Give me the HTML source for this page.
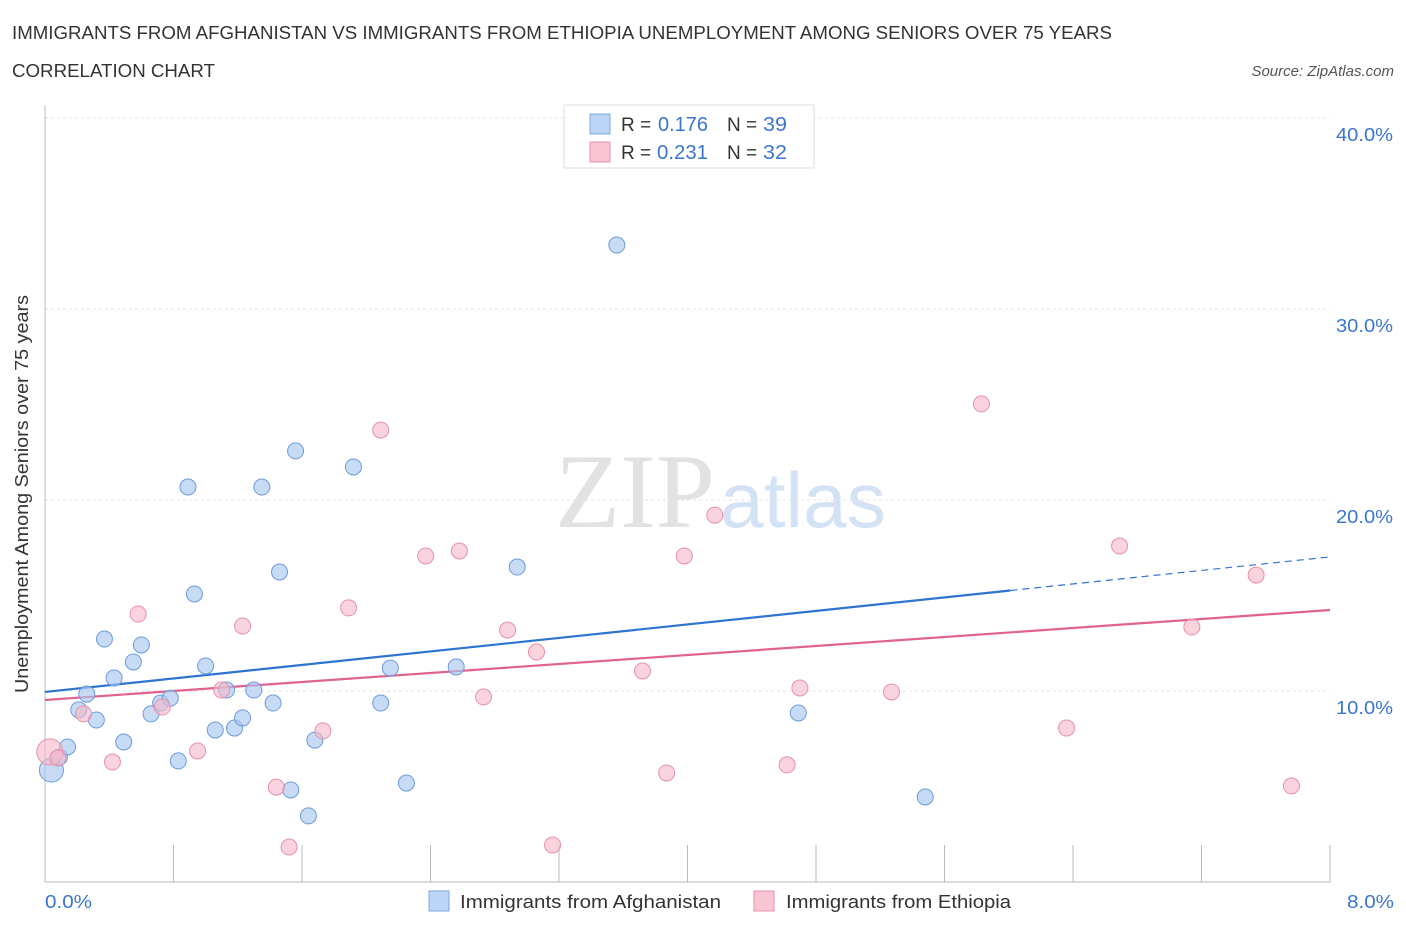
<!DOCTYPE html>
<html><head><meta charset="utf-8"><style>
body{margin:0;background:#fff;font-family:"Liberation Sans",sans-serif;}
svg text{font-family:"Liberation Sans",sans-serif;}
</style></head><body>
<svg id="c" width="1406" height="930" xmlns="http://www.w3.org/2000/svg">
<text x="12" y="39" font-size="18" fill="#333" textLength="1100" lengthAdjust="spacingAndGlyphs">IMMIGRANTS FROM AFGHANISTAN VS IMMIGRANTS FROM ETHIOPIA UNEMPLOYMENT AMONG SENIORS OVER 75 YEARS</text>
<text x="12" y="77" font-size="18" fill="#333" textLength="203" lengthAdjust="spacingAndGlyphs">CORRELATION CHART</text>
<text x="1394" y="76" font-size="15" fill="#555" font-style="italic" text-anchor="end">Source: ZipAtlas.com</text>
<text x="555" y="527" font-size="106" fill="#e2e2e2" textLength="160" lengthAdjust="spacingAndGlyphs" font-family="Liberation Serif" style="font-family:'Liberation Serif',serif">ZIP</text>
<text x="720" y="527" font-size="78" fill="#d3e2f4" textLength="166" lengthAdjust="spacingAndGlyphs">atlas</text>
<g id="grid"></g><g id="axes"></g><g id="lines"></g><g id="pts"></g>
<text x="28" y="494" font-size="18" fill="#333" text-anchor="middle" textLength="398" lengthAdjust="spacingAndGlyphs" transform="rotate(-90 28 494)">Unemployment Among Seniors over 75 years</text>
<text x="45" y="908" font-size="18" fill="#3a76d0" textLength="47" lengthAdjust="spacingAndGlyphs">0.0%</text>
<text x="1347" y="908" font-size="18" fill="#3a76d0" textLength="47" lengthAdjust="spacingAndGlyphs">8.0%</text>
<g>
<rect x="564" y="105" width="250" height="63" fill="#fff" stroke="#ddd"/>
<rect x="590" y="114" width="20" height="20" fill="#bcd4f5" stroke="#7ba7e0"/>
<rect x="590" y="142" width="20" height="20" fill="#f9c4d3" stroke="#e890aa"/>
<text x="621" y="131" font-size="19" fill="#333">R =</text>
<text x="658" y="131" font-size="20" fill="#3a76d0" textLength="50" lengthAdjust="spacingAndGlyphs">0.176</text>
<text x="727" y="131" font-size="19" fill="#333">N =</text>
<text x="763" y="131" font-size="20" fill="#3a76d0" textLength="24" lengthAdjust="spacingAndGlyphs">39</text>
<text x="621" y="159" font-size="19" fill="#333">R =</text>
<text x="657" y="159" font-size="20" fill="#3a76d0" textLength="51" lengthAdjust="spacingAndGlyphs">0.231</text>
<text x="727" y="159" font-size="19" fill="#333">N =</text>
<text x="763" y="159" font-size="20" fill="#3a76d0" textLength="24" lengthAdjust="spacingAndGlyphs">32</text>
</g>
<g>
<rect x="429" y="891" width="20" height="20" fill="#bcd4f5" stroke="#7ba7e0"/>
<text x="460" y="908" font-size="18" fill="#333" textLength="261" lengthAdjust="spacingAndGlyphs">Immigrants from Afghanistan</text>
<rect x="754" y="891" width="20" height="20" fill="#f9c4d3" stroke="#e890aa"/>
<text x="786" y="908" font-size="18" fill="#333" textLength="225" lengthAdjust="spacingAndGlyphs">Immigrants from Ethiopia</text>
</g>
</svg>
<script>
const yTicks=[10,20,30,40];
const yTickLabels=["10.0%","20.0%","30.0%","40.0%"];
const blueX=[0.04,0.09,0.14,0.21,0.26,0.32,0.37,0.43,0.49,0.55,0.60,0.66,0.72,0.78,0.83,0.89,0.93,1.00,1.06,1.13,1.18,1.23,1.30,1.35,1.42,1.46,1.53,1.56,1.64,1.68,1.92,2.09,2.15,2.25,2.56,2.94,3.56,4.69,5.48];
const blueY=[5.86,6.54,7.07,9.01,9.84,8.48,12.72,10.68,7.33,11.52,12.41,8.80,9.37,9.63,6.34,20.68,15.08,11.31,7.96,10.05,8.06,8.59,10.05,20.68,9.37,16.23,4.82,22.57,3.46,7.43,21.73,9.37,11.20,5.18,11.26,16.49,33.35,8.85,4.45];
const pinkX=[0.03,0.08,0.24,0.42,0.58,0.73,0.95,1.10,1.23,1.44,1.52,1.73,1.89,2.09,2.37,2.58,2.73,2.88,3.06,3.16,3.72,3.87,3.98,4.17,4.62,4.70,5.27,5.83,6.36,6.69,7.14,7.54,7.76];
const pinkY=[6.81,6.49,8.80,6.28,14.03,9.16,6.86,10.05,13.40,4.97,1.83,7.91,14.35,23.66,17.07,17.33,9.69,13.19,12.04,1.94,11.05,5.71,17.07,19.21,6.13,10.16,9.95,25.03,8.06,17.59,13.35,16.07,5.03];
const blueTrend=[9.95,17.02], blueSolidEnd=6.01;
const pinkTrend=[9.53,14.24];
const X=v=>45+v/8*1285, Y=v=>882-v*19.1;
const NS="http://www.w3.org/2000/svg";
function mk(tag,attrs,parent){const e=document.createElementNS(NS,tag);for(const k in attrs)e.setAttribute(k,attrs[k]);document.getElementById(parent).appendChild(e);return e;}
yTicks.forEach((t,i)=>{
 const g=mk('line',{x1:45,x2:1330,y1:Y(t),y2:Y(t),stroke:'#e3e3e3','stroke-dasharray':'3,3'},'grid');
 
 
 const tx=mk('text',{x:1336,y:Y(t)+23,'font-size':18,fill:'#3a76d0',textLength:57,lengthAdjust:'spacingAndGlyphs'},'grid');
 tx.textContent=yTickLabels[i];
 
 
});
let a=mk('line',{x1:45,x2:45,y1:105,y2:882,stroke:'#bbb'},'axes');


a=mk('line',{x1:45,x2:1330,y1:882,y2:882,stroke:'#bbb'},'axes');


for(let i=1;i<=10;i++){const t=mk('line',{x1:X(i*0.8),x2:X(i*0.8),y1:845,y2:882,stroke:'#bbb'},'axes');
 
 }
const by=x=>blueTrend[0]+(blueTrend[1]-blueTrend[0])*x/8;
let l=mk('line',{x1:X(0),y1:Y(by(0)),x2:X(blueSolidEnd),y2:Y(by(blueSolidEnd)),stroke:'#2f74d0','stroke-width':2.2},'lines');


l=mk('line',{x1:X(blueSolidEnd),y1:Y(by(blueSolidEnd)),x2:X(8),y2:Y(by(8)),stroke:'#2f74d0','stroke-width':1.2,'stroke-dasharray':'7,5'},'lines');


l=mk('line',{x1:X(0),y1:Y(pinkTrend[0]),x2:X(8),y2:Y(pinkTrend[1]),stroke:'#e0628d','stroke-width':2.2},'lines');


blueX.forEach((x,i)=>{const c=mk('circle',{cx:X(x),cy:Y(blueY[i]),r:i==0?12:8,fill:'#a9c8f0','fill-opacity':0.65,stroke:'#6c9bdc','stroke-width':1},'pts');
 
 });
pinkX.forEach((x,i)=>{const c=mk('circle',{cx:X(x),cy:Y(pinkY[i]),r:i==0?13:8,fill:'#f5b8c8','fill-opacity':0.6,stroke:'#e890aa','stroke-width':1},'pts');
 
 });
</script>
</body></html>
